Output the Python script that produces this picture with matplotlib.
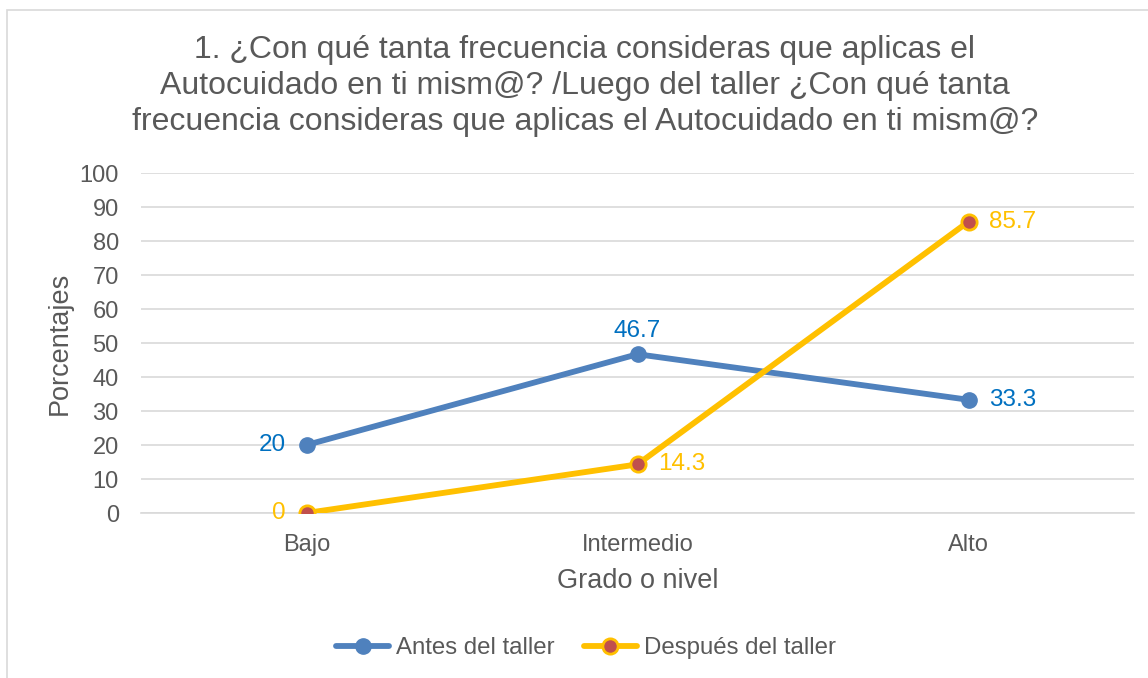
import matplotlib
matplotlib.use("Agg")
import matplotlib.pyplot as plt
from matplotlib.patches import Rectangle

plt.rcParams['font.family'] = ['Liberation Sans', 'DejaVu Sans']

categories = ["Bajo", "Intermedio", "Alto"]
antes = [20, 46.7, 33.3]
despues = [0, 14.3, 85.7]
series_names = ["Antes del taller", "Después del taller"]
title = ("1. ¿Con qué tanta frecuencia consideras que aplicas el\n"
         "Autocuidado en ti mism@? /Luego del taller ¿Con qué tanta\n"
         "frecuencia consideras que aplicas el Autocuidado en ti mism@?")
yticks = list(range(0, 101, 10))

gray = "#595959"
blue = "#4F81BD"
blue_lbl = "#0070C0"
orange = "#FFC000"
red = "#C0504D"

fig = plt.figure(figsize=(11.48, 6.78), dpi=100)
fig.patches.append(Rectangle((7/1148, -0.2), 1.2, 1.2 - 10/678, transform=fig.transFigure,
                             fill=False, edgecolor="#D9D9D9", linewidth=1.2))
ax = fig.add_axes([141/1148, 1 - 513/678, (1134-141)/1148, (513-173)/678])

x = list(range(len(categories)))
ax.plot(x, antes, color=blue, lw=4.2, marker='o', ms=11, mfc=blue, mec=blue,
        label=series_names[0], solid_capstyle='round', zorder=3)
ax.plot(x, despues, color=orange, lw=4.2, marker='o', ms=11, mfc=red, mec=orange, mew=2,
        label=series_names[1], solid_capstyle='round', zorder=3)

ax.set_xlim(-0.5, len(categories) - 0.5)
ax.set_ylim(0, 100)
ax.set_yticks(yticks)
ax.set_xticks(x)
ax.set_xticklabels(categories)
ax.yaxis.grid(True, color="#D9D9D9", lw=1.2)
ax.set_axisbelow(True)
for s in ['top', 'right', 'left']:
    ax.spines[s].set_visible(False)
ax.spines['bottom'].set_color("#D9D9D9")
ax.spines['bottom'].set_linewidth(1.2)
ax.tick_params(axis='both', length=0, labelsize=17, labelcolor=gray)
ax.tick_params(axis='y', pad=16)
ax.tick_params(axis='x', pad=15)

ax.set_ylabel("Porcentajes", fontsize=19.5, color=gray, labelpad=5)
ax.set_xlabel("Grado o nivel", fontsize=19.5, color=gray, labelpad=9)

fs = 17.5
off = 15
# Antes labels
ax.annotate(f"{antes[0]:g}", (0, antes[0]), xytext=(-off, 0), textcoords='offset points',
            ha='right', va='center', fontsize=fs, color=blue_lbl)
ax.annotate(f"{antes[1]:g}", (1, antes[1]), xytext=(0, 9), textcoords='offset points',
            ha='center', va='bottom', fontsize=fs, color=blue_lbl)
ax.annotate(f"{antes[2]:g}", (2, antes[2]), xytext=(off, 0), textcoords='offset points',
            ha='left', va='center', fontsize=fs, color=blue_lbl)
# Despues labels
ax.annotate(f"{despues[0]:g}", (0, despues[0]), xytext=(-off, 0), textcoords='offset points',
            ha='right', va='center', fontsize=fs, color=orange)
ax.annotate(f"{despues[1]:g}", (1, despues[1]), xytext=(off, 0), textcoords='offset points',
            ha='left', va='center', fontsize=fs, color=orange)
ax.annotate(f"{despues[2]:g}", (2, despues[2]), xytext=(off, 0), textcoords='offset points',
            ha='left', va='center', fontsize=fs, color=orange)

fig.text(585/1148, 1 - 86/678, title, ha='center', va='center', fontsize=23,
         color=gray, linespacing=1.28)

leg = fig.legend(loc='center', bbox_to_anchor=(586/1148, 1 - 648/678), ncol=2,
                 frameon=False, fontsize=17.3, handlelength=2.2, columnspacing=1.2,
                 handletextpad=0.3)
for t in leg.get_texts():
    t.set_color(gray)

fig.savefig("out.png", dpi=100)
